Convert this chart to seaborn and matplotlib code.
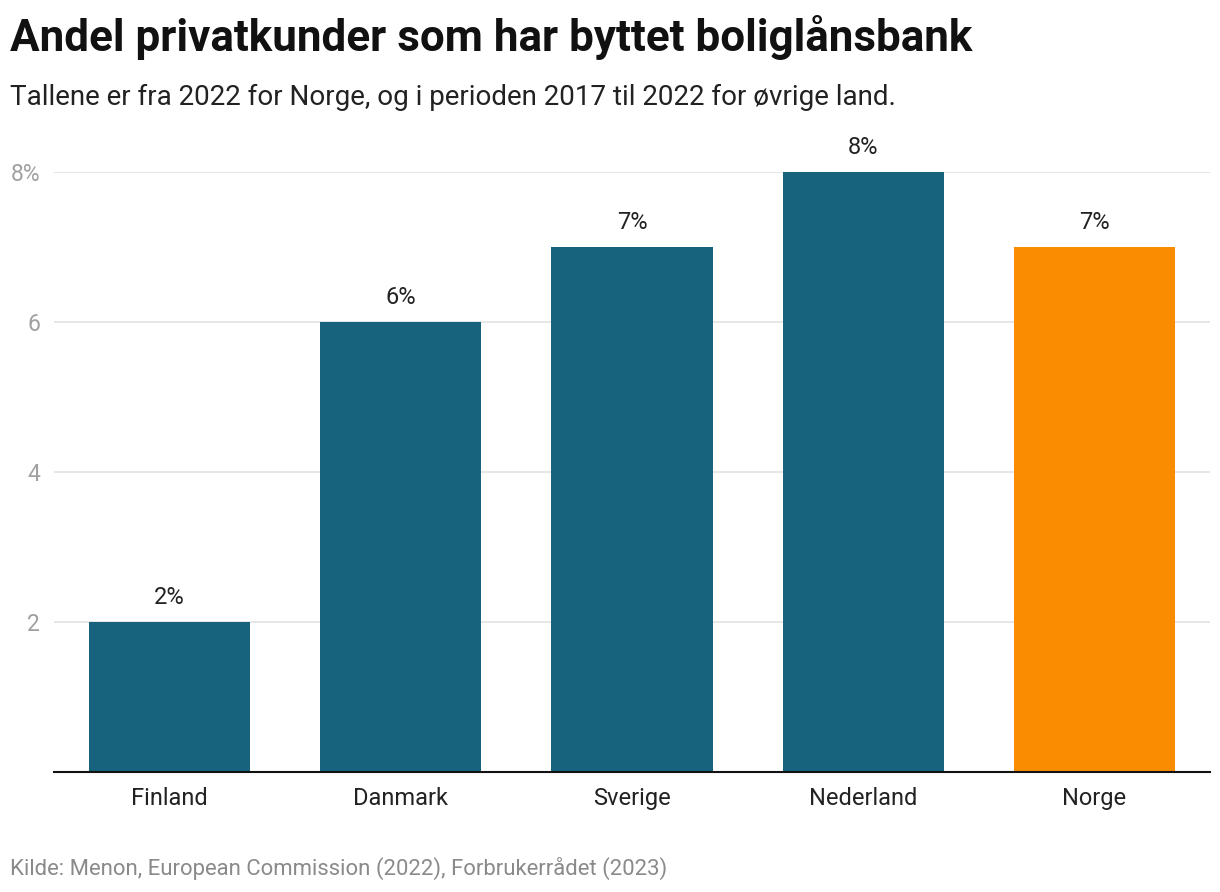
import matplotlib
matplotlib.use("Agg")
import matplotlib.pyplot as plt
import seaborn as sns
import pandas as pd

countries = ["Finland", "Danmark", "Sverige", "Nederland", "Norge"]
values = [2, 6, 7, 8, 7]
colors = ["#17627c", "#17627c", "#17627c", "#17627c", "#f98c00"]
yticks = [2, 4, 6, 8]
ytick_labels = ["2", "4", "6", "8%"]

sns.set_theme(style="white")
plt.rcParams["font.family"] = ["Roboto", "DejaVu Sans"]

df = pd.DataFrame({"land": countries, "andel": values})

fig = plt.figure(figsize=(12.2, 8.92), dpi=100)
ax = fig.add_axes([54 / 1220, 120 / 892, 1156 / 1220, 600 / 892])
sns.barplot(data=df, x="land", y="andel", hue="land", palette=colors,
            legend=False, width=0.697, ax=ax, saturation=1, linewidth=0)

ax.set_ylim(0, 8)
ax.set_xlim(-0.5, 4.5)
ax.set_yticks(yticks)
ax.set_yticklabels(ytick_labels)
ax.yaxis.grid(True, color="#e2e2e2", linewidth=1.2)
ax.set_axisbelow(True)
for s in ["top", "right", "left"]:
    ax.spines[s].set_visible(False)
ax.spines["bottom"].set_color("#111111")
ax.spines["bottom"].set_linewidth(1.5)
ax.set_xlabel("")
ax.set_ylabel("")
ax.tick_params(axis="y", length=0, labelsize=16.5, labelcolor="#a0a0a0", pad=10)
ax.tick_params(axis="x", length=0, labelsize=17, labelcolor="#222222", pad=11)

for i, v in enumerate(values):
    ax.annotate(f"{v}%", (i, v), xytext=(0, 9), textcoords="offset points",
                ha="center", va="bottom", fontsize=17, color="#222222",
                annotation_clip=False)

fig.text(10 / 1220, 1 - 37 / 892, "Andel privatkunder som har byttet boliglånsbank",
         fontsize=31.7, fontweight="bold", color="#111111", va="center", ha="left")
fig.text(10 / 1220, 1 - 97 / 892,
         "Tallene er fra 2022 for Norge, og i perioden 2017 til 2022 for øvrige land.",
         fontsize=20, color="#222222", va="center", ha="left")
fig.text(10 / 1220, 1 - 868 / 892,
         "Kilde: Menon, European Commission (2022), Forbrukerrådet (2023)",
         fontsize=15.9, color="#8a8a8a", va="center", ha="left")

fig.savefig("out.png", dpi=100)
